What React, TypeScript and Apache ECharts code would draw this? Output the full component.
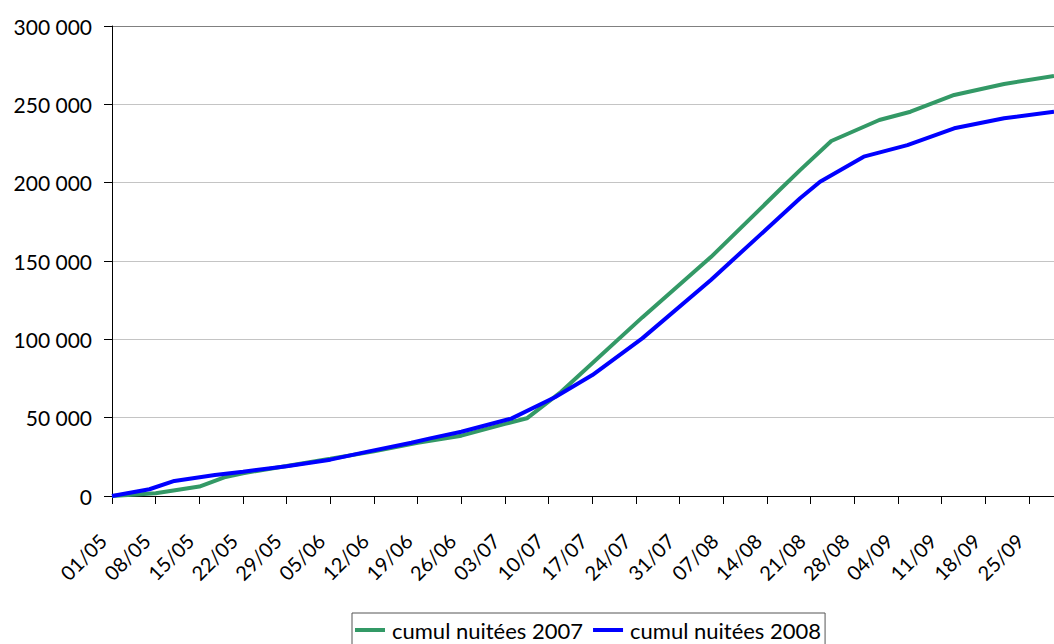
import React, { useEffect, useRef } from "react";
import * as echarts from "echarts";

// Day offsets from 01/05 and cumulative night counts
const days2007 = [0, 7, 14, 18, 21, 28, 35, 42, 49, 56, 63, 66.5, 72, 85, 96, 107, 110.3, 115.3, 123, 128, 135, 143, 151];
const values2007 = [0, 1700, 6000, 11900, 14500, 19200, 23800, 28500, 34000, 38500, 46000, 49600, 66500, 114000, 152500, 195300, 208000, 226600, 240000, 245300, 256000, 263000, 268100];

const days2008 = [0, 6, 10, 16.5, 21, 28, 35, 41, 48, 51, 56, 64, 71, 77, 85, 96, 110.3, 113.5, 120.5, 127.5, 135, 143, 151];
const values2008 = [0, 4300, 9600, 13400, 15500, 19000, 23200, 28300, 34000, 36800, 41000, 49400, 63000, 77200, 100600, 137900, 190000, 200600, 216600, 224000, 234700, 241100, 245300];

const tickLabels = ["01/05", "08/05", "15/05", "22/05", "29/05", "05/06", "12/06", "19/06", "26/06", "03/07", "10/07", "17/07", "24/07", "31/07", "07/08", "14/08", "21/08", "28/08", "04/09", "11/09", "18/09", "25/09"];

const seriesNames = ["cumul nuitées 2007", "cumul nuitées 2008"];

const FONT = "Lato";

export default function App() {
  const ref = useRef<HTMLDivElement>(null);
  useEffect(() => {
    if (!ref.current) return;
    const chart = echarts.init(ref.current, null, { renderer: "svg" });
    const d07 = days2007.map((d, i) => [d, values2007[i]]);
    const d08 = days2008.map((d, i) => [d, values2008[i]]);
    chart.setOption({
      animation: false,
      backgroundColor: "#ffffff",
      grid: { left: 112, right: 0, top: 26, bottom: 148, containLabel: false },
      xAxis: {
        type: "value",
        min: 0,
        max: 151,
        interval: 7,
        axisLine: { show: true, lineStyle: { color: "#000", width: 1 } },
        axisTick: { show: true, length: 8, lineStyle: { color: "#000" } },
        splitLine: { show: false },
        axisLabel: {
          rotate: 45,
          margin: 32,
          padding: [0, 13, 0, 0],
          color: "#000",
          fontFamily: FONT,
          fontSize: 20,
          showMaxLabel: false,
          formatter: (v: number) => {
            const idx = Math.round(v / 7);
            return Math.abs(v - idx * 7) < 0.01 && tickLabels[idx] ? tickLabels[idx] : "";
          },
        },
      },
      yAxis: {
        type: "value",
        min: 0,
        max: 300000,
        interval: 50000,
        axisLine: { show: true, lineStyle: { color: "#000", width: 1 } },
        axisTick: { show: true, length: 8, lineStyle: { color: "#000" } },
        splitLine: {
          show: true,
          lineStyle: {
            color: ["#c4c4c4", "#c4c4c4", "#c4c4c4", "#c4c4c4", "#c4c4c4", "#c4c4c4", "#808080"],
            width: 1,
          },
        },
        axisLabel: {
          margin: 20,
          color: "#000",
          fontFamily: FONT,
          fontSize: 21,
          formatter: (v: number) => String(v).replace(/\B(?=(\d{3})+(?!\d))/g, " "),
        },
      },
      legend: {
        left: 352,
        top: 613,
        orient: "horizontal",
        padding: [6, 4, 30, 3],
        borderColor: "#555",
        borderWidth: 1,
        borderRadius: 0,
        itemWidth: 30,
        itemHeight: 4,
        itemGap: 10,
        icon: "rect",
        textStyle: { color: "#000", fontFamily: FONT, fontSize: 22, padding: [0, 0, 0, 2] },
        data: seriesNames,
      },
      series: [
        {
          name: seriesNames[0],
          type: "line",
          data: d07,
          showSymbol: false,
          symbol: "none",
          itemStyle: { color: "#339966" },
          lineStyle: { color: "#339966", width: 4 },
        },
        {
          name: seriesNames[1],
          type: "line",
          data: d08,
          showSymbol: false,
          symbol: "none",
          itemStyle: { color: "#0000ff" },
          lineStyle: { color: "#0000ff", width: 4 },
        },
      ],
    });
    return () => chart.dispose();
  }, []);
  return (
    <div
      ref={ref}
      style={{ position: "fixed", left: 0, top: 0, width: 1054, height: 644, background: "#fff" }}
    />
  );
}
